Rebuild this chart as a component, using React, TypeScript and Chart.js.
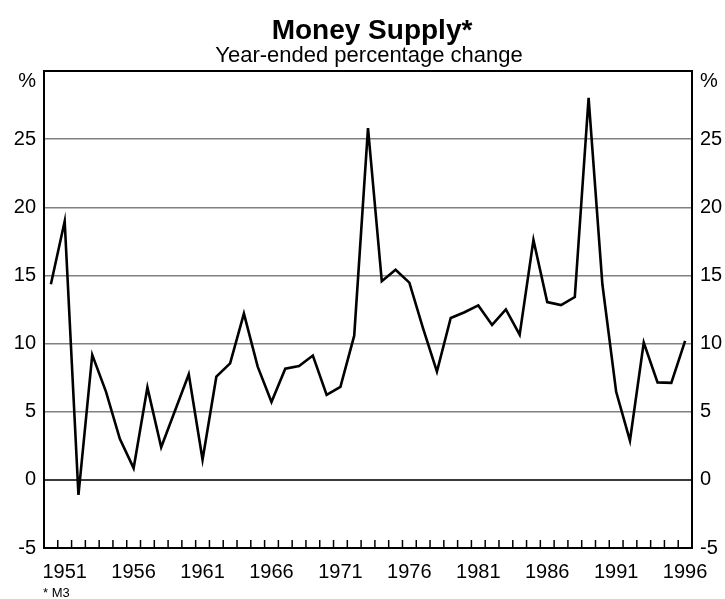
import React, { useEffect, useRef } from "react";
import { Chart, registerables } from "chart.js";

Chart.register(...registerables);

const years: string[] = [];
for (let y = 1950; y <= 1996; y++) years.push(String(y));

const moneySupply: number[] = [
  14.35, 18.98, -1.11, 9.17, 6.46, 3.01, 0.86, 6.78, 2.39, 5.07,
  7.74, 1.48, 7.57, 8.55, 12.2, 8.31, 5.72, 8.16, 8.36, 9.12,
  6.24, 6.83, 10.58, 25.81, 14.57, 15.41, 14.47, 11.1, 7.94, 11.88,
  12.3, 12.8, 11.37, 12.5, 10.65, 17.6, 13.04, 12.82, 13.41, 28.03,
  14.35, 6.46, 2.88, 10.08, 7.15, 7.12, 10.2,
];

const labelYears: string[] = ["1951", "1956", "1961", "1966", "1971", "1976", "1981", "1986", "1991", "1996"];

const title = "Money Supply*";
const subtitle = "Year-ended percentage change";
const footnote = "* M3";
const unitLabel = "%";

const FONT = "Arial, 'Liberation Sans', sans-serif";

const decorPlugin = {
  id: "decor",
  afterDraw(chart: any) {
    const { ctx, chartArea } = chart;
    const { left, right, top, bottom } = chartArea;
    const xs = chart.scales.x;
    ctx.save();
    // tick marks at category boundaries
    ctx.strokeStyle = "#000";
    ctx.lineWidth = 1.5;
    for (let i = 0; i < years.length - 1; i++) {
      const x = (xs.getPixelForValue(i) + xs.getPixelForValue(i + 1)) / 2;
      ctx.beginPath();
      ctx.moveTo(x, bottom);
      ctx.lineTo(x, bottom - 8);
      ctx.stroke();
    }
    // frame
    ctx.lineWidth = 2;
    ctx.strokeRect(left, top, right - left, bottom - top);
    // titles
    ctx.fillStyle = "#000";
    ctx.textAlign = "center";
    ctx.textBaseline = "alphabetic";
    ctx.font = `bold 28px ${FONT}`;
    ctx.fillText(title, 372, 39);
    ctx.font = `22px ${FONT}`;
    ctx.fillText(subtitle, 369, 62);
    // unit labels
    ctx.font = `20px ${FONT}`;
    ctx.textBaseline = "middle";
    ctx.textAlign = "right";
    ctx.fillText(unitLabel, 36, top + 10);
    ctx.textAlign = "left";
    ctx.fillText(unitLabel, right + 8, top + 10);
    // footnote
    ctx.font = `13px ${FONT}`;
    ctx.textBaseline = "alphabetic";
    ctx.textAlign = "left";
    ctx.fillText(footnote, 43, 597);
    ctx.restore();
  },
};

export default function App() {
  const ref = useRef<HTMLCanvasElement>(null);
  useEffect(() => {
    if (!ref.current) return;
    const yTicks = (side: "left" | "right") => ({
      type: "linear" as const,
      position: side,
      min: -5,
      max: 30,
      border: { display: false },
      grid: {
        display: side === "left",
        drawTicks: false,
        color: (c: any) => {
          const v = c.tick && c.tick.value;
          if (v === 30 || v === -5) return "rgba(0,0,0,0)";
          if (v === 0) return "#3a3a3a";
          return "#808080";
        },
        lineWidth: (c: any) => (c.tick && c.tick.value === 0 ? 2 : 1.5),
      },
      ticks: {
        stepSize: 5,
        padding: 8,
        color: "#000",
        font: { family: FONT, size: 20 },
        callback: (v: any) => (v === 30 ? "" : String(v)),
      },
      afterFit: (s: any) => {
        s.width = side === "left" ? 44 : 33;
      },
    });
    const chart = new Chart(ref.current, {
      type: "line",
      data: {
        labels: years,
        datasets: [
          {
            data: moneySupply,
            borderColor: "#000",
            borderWidth: 2.6,
            pointRadius: 0,
            tension: 0,
            fill: false,
            yAxisID: "y",
          },
        ],
      },
      options: {
        animation: false,
        responsive: false,
        devicePixelRatio: 1,
        layout: { padding: { top: 71, left: 0, right: 0, bottom: 0 } },
        plugins: {
          legend: { display: false },
          tooltip: { enabled: false },
          title: { display: false },
        },
        scales: {
          x: {
            type: "category",
            offset: true,
            border: { display: false },
            grid: { display: false, drawTicks: false },
            ticks: {
              autoSkip: false,
              maxRotation: 0,
              minRotation: 0,
              padding: 12,
              color: "#000",
              font: { family: FONT, size: 20 },
              callback: (_v: any, i: number) => (labelYears.includes(years[i]) ? years[i] : ""),
            },
            afterFit: (s: any) => {
              s.height = 51;
            },
          },
          y: yTicks("left"),
          y2: yTicks("right"),
        },
      },
      plugins: [decorPlugin],
    } as any);
    return () => chart.destroy();
  }, []);
  return (
    <div style={{ position: "fixed", left: 0, top: 0, width: 725, height: 599, background: "#fff" }}>
      <canvas ref={ref} width={725} height={599} />
    </div>
  );
}
